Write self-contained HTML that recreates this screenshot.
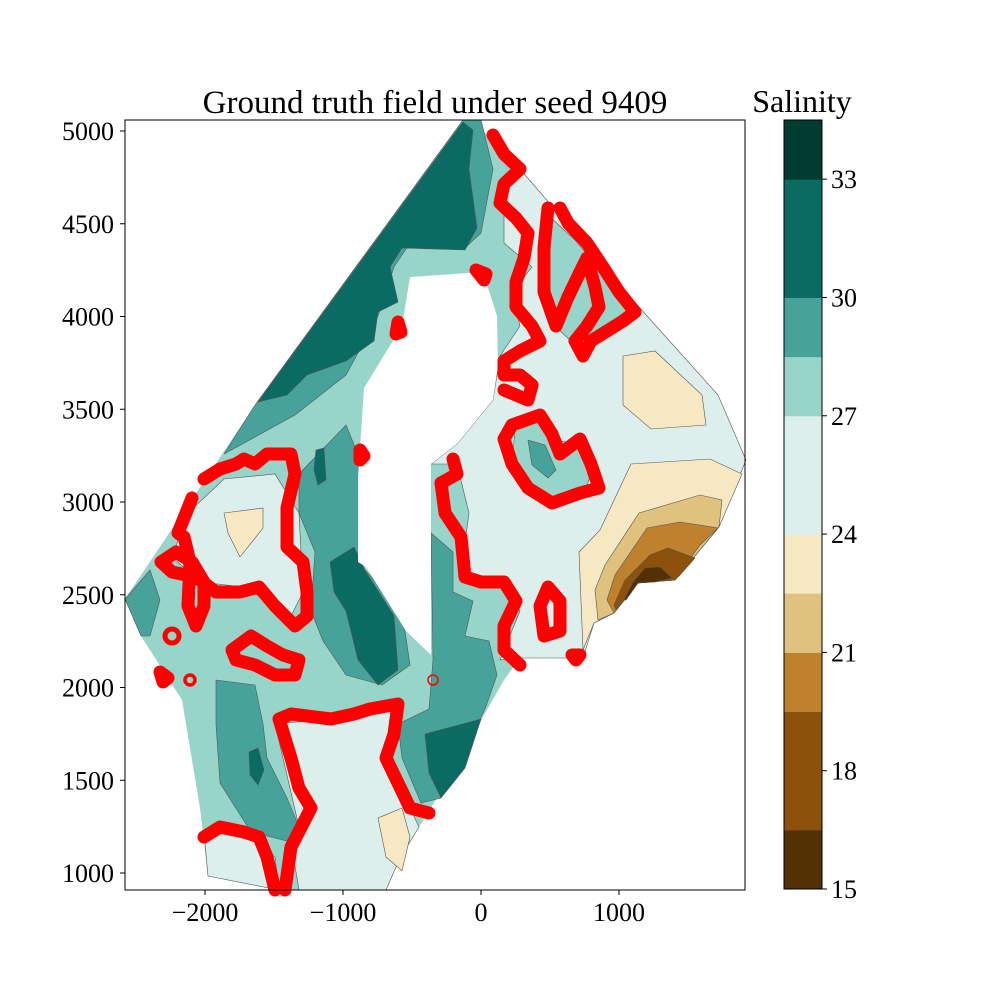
<!DOCTYPE html>
<html><head><meta charset="utf-8"><style>
body{margin:0;background:#fff}
svg text{font-family:"Liberation Serif",serif;fill:#000}
</style></head><body>
<svg id="chart" width="1000" height="1000" xmlns="http://www.w3.org/2000/svg">
<g id="field"></g>
<g id="redlines"></g>
<rect x="125" y="120" width="620" height="770" fill="none" stroke="#000" stroke-width="1"/>
<g id="axes"></g>
<text x="435" y="113" font-size="33" text-anchor="middle">Ground truth field under seed 9409</text>
<g id="cbar"></g>
<text x="802" y="112" font-size="32" text-anchor="middle">Salinity</text>
</svg>
<script>
const xTicks=[-2000,-1000,0,1000];
const yTicks=[1000,1500,2000,2500,3000,3500,4000,4500,5000];
const cbLevels=[15,16.5,18,19.5,21,22.5,24,25.5,27,28.5,30,31.5,33,34.5];
const cbColors=["#543005","#8c510a","#8c510a","#bf812d","#dfc27d","#f6e8c3","#dcefed","#dcefed","#97d4ca","#47a399","#0a6b63","#0a6b63","#003c30"];
const cbTicks=[15,18,21,24,27,30,33];
const X=v=>481+v*0.138, Y=v=>873-(v-1000)*0.1855, C=v=>889-(v-15)*(769/19.5);
const NS="http://www.w3.org/2000/svg";
function mk(tag,parent){const e=document.createElementNS(NS,tag);parent.appendChild(e);return e;}
const ax=document.getElementById('axes');
xTicks.forEach(t=>{const l=mk('line',ax);
l.setAttribute('x1',X(t));l.setAttribute('x2',X(t));l.setAttribute('y1',890);l.setAttribute('y2',895);l.setAttribute('stroke','#000');
const s=mk('text',ax);
s.setAttribute('x',X(t));s.setAttribute('y',921);s.setAttribute('font-size','26');s.setAttribute('text-anchor','middle');s.textContent=(t<0?'\u2212'+(-t):t);});
yTicks.forEach(t=>{const l=mk('line',ax);
l.setAttribute('x1',120);l.setAttribute('x2',125);l.setAttribute('y1',Y(t));l.setAttribute('y2',Y(t));l.setAttribute('stroke','#000');
const s=mk('text',ax);
s.setAttribute('x',114);s.setAttribute('y',Y(t)+9);s.setAttribute('font-size','26');s.setAttribute('text-anchor','end');s.textContent=t;});
const cb=document.getElementById('cbar');
cbColors.forEach((c,i)=>{const r=mk('rect',cb);
r.setAttribute('x',784);r.setAttribute('width',38);r.setAttribute('y',C(cbLevels[i+1]));r.setAttribute('height',C(cbLevels[i])-C(cbLevels[i+1])+0.5);r.setAttribute('fill',c);});
{const r=mk('rect',cb);r.setAttribute('x',784);r.setAttribute('y',120);r.setAttribute('width',38);r.setAttribute('height',769);r.setAttribute('fill','none');r.setAttribute('stroke','#000');}
cbTicks.forEach(t=>{const l=mk('line',cb);
l.setAttribute('x1',822);l.setAttribute('x2',827);l.setAttribute('y1',C(t));l.setAttribute('y2',C(t));l.setAttribute('stroke','#000');
const s=mk('text',cb);
s.setAttribute('x',831);s.setAttribute('y',C(t)+9);s.setAttribute('font-size','26');s.textContent=t;});

const shapes=[
["domain","#97d4ca",[[125,599],[255,405],[463,120],[473,120],[520,169],[639,307],[718,395],[746,460],[719,527],[675,580],[638,583],[614,613],[594,623],[583,658],[520,658],[504,680],[437,798],[419,827],[399,860],[386,890],[279,890],[208,876],[200,808],[182,700],[141,636]]],
["light-right","#dcefed",[[493,400],[457,444],[431,464],[457,464],[469,513],[461,572],[473,582],[504,582],[520,611],[500,660],[520,658],[583,658],[594,623],[614,613],[638,583],[675,580],[719,527],[746,460],[718,395],[639,307],[520,169],[504,194],[504,243],[532,267],[512,292],[520,326],[500,356]]],
["teal-upper-right","#97d4ca",[[548,215],[575,240],[600,270],[630,300],[620,325],[590,335],[570,340],[548,320],[540,280]]],
["teal-loop","#97d4ca",[[515,430],[540,420],[556,440],[580,445],[592,470],[585,492],[555,498],[530,485],[512,462]]],
["teal-loop-dark","#47a399",[[528,440],[545,445],[556,470],[548,478],[532,465]]],
["light-bottom","#dcefed",[[275,724],[331,719],[370,709],[394,709],[382,758],[410,808],[419,827],[399,860],[386,890],[299,890],[291,842],[299,827],[283,758]]],
["light-bottom-left","#dcefed",[[204,832],[251,837],[275,857],[279,890],[208,876]]],
["light-left","#dcefed",[[188,513],[224,479],[275,474],[299,513],[303,592],[291,616],[244,587],[200,582],[172,557]]],
["cream-left","#f6e8c3",[[224,513],[263,508],[263,528],[240,557],[228,533]]],
["cream-right","#f6e8c3",[[623,356],[655,351],[702,395],[706,425],[651,429],[623,405]]],
["cream-bottom","#f6e8c3",[[378,818],[402,808],[410,837],[402,871],[386,857]]],
["cream-band","#f6e8c3",[[579,552],[600,530],[631,464],[710,459],[742,474],[719,527],[675,580],[638,583],[614,613],[594,623],[583,650]]],
["tan-band","#dfc27d",[[595,590],[605,565],[639,513],[700,495],[722,500],[719,527],[675,580],[638,583],[614,613],[598,620]]],
["ochre-band","#bf812d",[[607,600],[615,575],[647,528],[680,522],[718,528],[700,545],[675,580],[638,583],[614,613]]],
["brown-band","#8c510a",[[614,605],[625,580],[650,555],[668,548],[695,558],[680,575],[675,580],[638,583],[616,610]]],
["dark-brown","#543005",[[624,600],[633,582],[645,568],[660,567],[672,578],[655,582],[638,583],[626,600]]],
["teal-nw","#47a399",[[224,454],[295,415],[346,375],[378,316],[394,267],[410,243],[465,248],[481,233],[493,169],[481,120],[463,120],[255,405]]],
["dark-nw","#0a6b63",[[473,130],[469,169],[477,228],[465,250],[402,248],[390,267],[398,302],[378,312],[374,341],[346,361],[307,375],[287,395],[258,402],[463,122]]],
["teal-column","#47a399",[[299,474],[346,425],[362,464],[358,562],[402,611],[410,665],[382,685],[346,675],[323,641],[311,611],[315,552],[299,513]]],
["dark-column","#0a6b63",[[330,562],[354,547],[366,572],[394,616],[398,670],[378,685],[358,660],[346,611],[334,592]]],
["dark-blob-left","#0a6b63",[[316,450],[324,448],[326,480],[318,485],[314,470]]],
["teal-right-hole","#47a399",[[431,533],[453,552],[453,592],[473,601],[465,636],[489,641],[497,675],[485,709],[441,798],[421,803],[402,758],[398,724],[429,709],[433,660]]],
["dark-right-hole","#0a6b63",[[425,734],[481,719],[465,768],[441,798],[429,773]]],
["teal-bottom-left","#47a399",[[216,680],[255,685],[263,724],[267,758],[287,798],[299,827],[291,842],[251,832],[220,783],[216,724]]],
["teal-left-edge","#47a399",[[125,599],[150,570],[160,600],[150,636],[141,636]]],
["dark-bottom-left","#0a6b63",[[249,752],[258,748],[264,770],[258,785],[250,775]]],
["hole","#ffffff",[[410,277],[483,272],[497,316],[498,366],[493,400],[457,444],[431,464],[431,655],[406,631],[366,567],[358,562],[358,478],[364,388],[402,326]]]
];
const fg=document.getElementById('field');
shapes.forEach(s=>{const p=mk('polygon',fg);
p.setAttribute('points',s[2].map(q=>q.join(',')).join(' '));p.setAttribute('fill',s[1]);
p.setAttribute('stroke',s[0]==='domain'||s[0]==='hole'?'none':'#555');p.setAttribute('stroke-width','0.6');});

const reds=[
["red-line-top",[[493,135],[504,154],[520,169],[504,184],[500,203],[516,218],[528,233],[524,258],[516,282],[516,307],[532,326],[540,341],[520,351],[504,361],[504,375],[520,375],[532,385],[528,400],[516,395],[504,390]],false],
["red-loop-mid",[[512,425],[540,415],[552,434],[560,454],[580,439],[591,464],[599,488],[580,493],[552,503],[528,488],[512,464],[504,439]],true],
["red-line-center",[[453,459],[457,474],[441,483],[445,513],[461,537],[465,577],[481,582],[504,582],[516,601],[504,626],[504,650],[520,665]],false],
["red-loop-small",[[548,587],[560,601],[560,631],[544,636],[540,606]],true],
["red-line-upper-right",[[548,208],[544,248],[544,292],[556,326],[568,297],[580,272],[587,258],[595,287],[599,307],[587,326],[575,341],[583,356],[591,341],[607,331],[623,321],[635,312],[619,292],[603,267],[587,243],[568,223],[560,208]],false],
["red-line-left",[[204,479],[220,469],[236,464],[244,459],[255,464],[267,454],[291,454],[295,474],[287,508],[287,547],[303,562],[307,592],[307,616],[295,626],[275,606],[259,587],[240,592],[216,592],[196,577],[172,572],[161,562],[176,552],[192,562],[204,582],[204,606],[196,626],[188,606],[190,562],[184,537],[178,533],[188,508],[192,498]],false],
["red-loop-lower-left",[[232,650],[251,636],[267,646],[283,655],[299,660],[295,675],[275,675],[255,665],[236,660]],true],
["red-line-bottom-a",[[204,837],[220,827],[244,832],[259,837],[267,857],[275,890]],false],
["red-line-bottom-b",[[285,890],[291,847],[311,808],[299,788],[291,758],[279,719],[291,714],[331,719],[354,714],[370,709],[398,704],[394,734],[386,758],[398,783],[410,808],[429,813]],false],
["red-dot-a",[[160,672],[168,678],[163,682]],true],
["red-dot-b",[[360,450],[364,456],[360,460]],true],
["red-dot-c",[[398,322],[401,332],[396,334]],true],
["red-dot-d",[[476,270],[486,274],[484,280]],true],
["red-dot-e",[[572,655],[580,655],[576,660]],true]
];
const rg=document.getElementById('redlines');
reds.forEach(r=>{const p=mk(r[2]?'polygon':'polyline',rg);
p.setAttribute('points',r[1].map(q=>q.join(',')).join(' '));p.setAttribute('fill','none');p.setAttribute('stroke','#ff0000');
p.setAttribute('stroke-width','13');p.setAttribute('stroke-linejoin','round');p.setAttribute('stroke-linecap','round');});
const circles=[[172,636,7,5],[190,680,5,3.5],[433,680,5,1.5]];
circles.forEach(c=>{const e=mk('circle',rg);
e.setAttribute('cx',c[0]);e.setAttribute('cy',c[1]);e.setAttribute('r',c[2]);e.setAttribute('fill','none');e.setAttribute('stroke','#ff0000');e.setAttribute('stroke-width',c[3]);});
</script>
</body></html>
